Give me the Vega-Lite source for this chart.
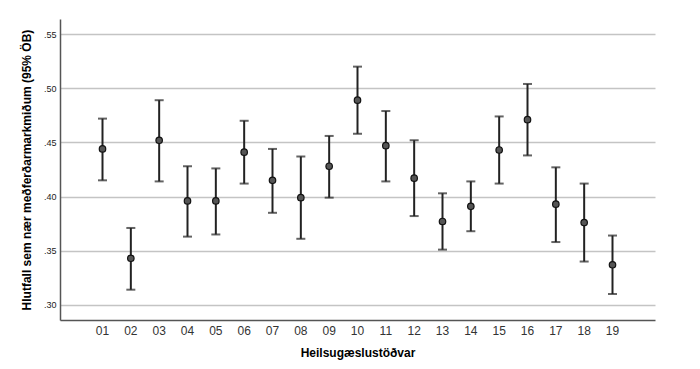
{
  "$schema": "https://vega.github.io/schema/vega-lite/v6.json",
  "autosize": {"type": "none"},
  "padding": {"left": 60, "top": 19, "right": 45, "bottom": 49},
  "width": 595,
  "height": 301,
  "background": "white",
  "config": {
    "view": {"stroke": null},
    "font": "Liberation Sans"
  },
  "data": {
    "values": [
      {"stod": "01", "mean": 0.444, "lo": 0.415, "hi": 0.472},
      {"stod": "02", "mean": 0.343, "lo": 0.314, "hi": 0.371},
      {"stod": "03", "mean": 0.452, "lo": 0.414, "hi": 0.489},
      {"stod": "04", "mean": 0.396, "lo": 0.363, "hi": 0.428},
      {"stod": "05", "mean": 0.396, "lo": 0.365, "hi": 0.426},
      {"stod": "06", "mean": 0.441, "lo": 0.412, "hi": 0.470},
      {"stod": "07", "mean": 0.415, "lo": 0.385, "hi": 0.444},
      {"stod": "08", "mean": 0.399, "lo": 0.361, "hi": 0.437},
      {"stod": "09", "mean": 0.428, "lo": 0.399, "hi": 0.456},
      {"stod": "10", "mean": 0.489, "lo": 0.458, "hi": 0.520},
      {"stod": "11", "mean": 0.447, "lo": 0.414, "hi": 0.479},
      {"stod": "12", "mean": 0.417, "lo": 0.382, "hi": 0.452},
      {"stod": "13", "mean": 0.377, "lo": 0.351, "hi": 0.403},
      {"stod": "14", "mean": 0.391, "lo": 0.368, "hi": 0.414},
      {"stod": "15", "mean": 0.443, "lo": 0.412, "hi": 0.474},
      {"stod": "16", "mean": 0.471, "lo": 0.438, "hi": 0.504},
      {"stod": "17", "mean": 0.393, "lo": 0.358, "hi": 0.427},
      {"stod": "18", "mean": 0.376, "lo": 0.340, "hi": 0.412},
      {"stod": "19", "mean": 0.337, "lo": 0.310, "hi": 0.364}
    ]
  },
  "encoding": {
    "x": {
      "field": "stod", "type": "ordinal",
      "scale": {"type": "band", "paddingInner": 0, "paddingOuter": 1},
      "axis": {
        "title": "Heilsugæslustöðvar", "labelAngle": 0, "ticks": false,
        "labelFontSize": 12, "labelColor": "#333", "labelPadding": 5,
        "titleFontSize": 12, "titleFontWeight": "bold", "titleColor": "#000", "titlePadding": 11,
        "domainColor": "#555", "domainWidth": 1.5, "grid": false
      }
    }
  },
  "layer": [
    {
      "mark": {"type": "rule", "color": "#222", "strokeWidth": 2},
      "encoding": {
        "y": {
          "field": "lo", "type": "quantitative",
          "scale": {"domain": [0.286, 0.564], "nice": false, "zero": false},
          "axis": {
            "title": "Hlutfall sem nær meðferðarmarkmiðum (95% ÖB)",
            "values": [0.30, 0.35, 0.40, 0.45, 0.50, 0.55],
            "labelExpr": "substring(format(datum.value, '.2f'), 1)",
            "ticks": false, "labelFontSize": 9, "labelColor": "#222", "labelPadding": 4,
            "titleFontSize": 12, "titleFontWeight": "bold", "titleColor": "#000", "titlePadding": 10,
            "domainColor": "#555", "domainWidth": 1.5,
            "grid": true, "gridColor": "#c4c4c4", "gridWidth": 1.5
          }
        },
        "y2": {"field": "hi"}
      }
    },
    {
      "mark": {"type": "tick", "color": "#222", "size": 9, "thickness": 2},
      "encoding": {"y": {"field": "lo", "type": "quantitative"}}
    },
    {
      "mark": {"type": "tick", "color": "#222", "size": 9, "thickness": 2},
      "encoding": {"y": {"field": "hi", "type": "quantitative"}}
    },
    {
      "mark": {"type": "point", "filled": true, "size": 42, "fill": "#555", "stroke": "#111", "strokeWidth": 1.2, "opacity": 1},
      "encoding": {"y": {"field": "mean", "type": "quantitative"}}
    }
  ]
}
